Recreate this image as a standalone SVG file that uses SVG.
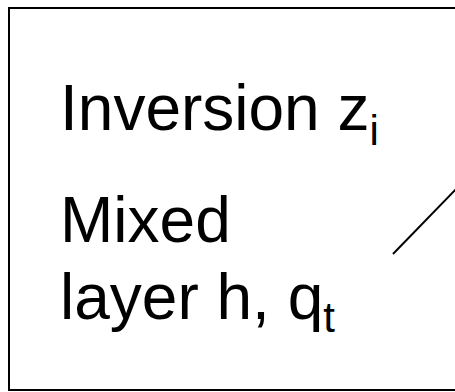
<svg xmlns="http://www.w3.org/2000/svg" width="455" height="392" viewBox="0 0 455 392">
<style>
.t{font-family:"Liberation Sans",Arial,sans-serif;font-size:64px;fill:#000}
.s{font-size:42px}
</style>
<rect x="0" y="0" width="455" height="392" fill="#fff"/>
<g id="frame"><rect x="9" y="8" width="460" height="382" fill="none" stroke="#000" stroke-width="2"/></g>
<g id="inversion"><text class="t" x="60" y="130">Inversion z<tspan class="s" dy="15">i</tspan></text></g>
<g id="mixed"><text class="t" x="60" y="242">Mixed</text><text class="t" x="60" y="319">layer h, q<tspan class="s" dy="13">t</tspan></text></g>
<g id="connectors"><line x1="393" y1="254" x2="459" y2="186" stroke="#000" stroke-width="2"/></g>
</svg>
